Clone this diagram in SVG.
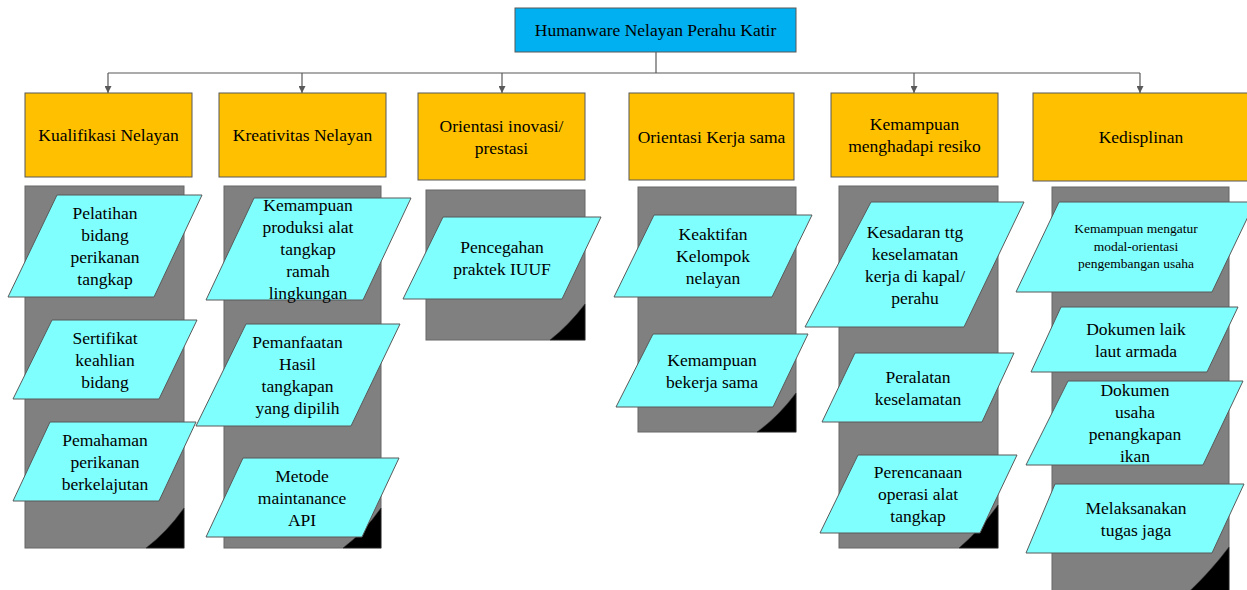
<svg xmlns="http://www.w3.org/2000/svg" width="1247" height="590" viewBox="0 0 1247 590">
<defs>
<style>
text{font-family:"Liberation Serif","Times New Roman",serif;font-size:17.5px;fill:#000;text-anchor:middle}
.sm{font-size:13.5px}
.root{fill:#00B0F0;stroke:#595959;stroke-width:1}
.cat{fill:#FFC000;stroke:#595959;stroke-width:1}
.panel{fill:#808080;stroke:#666;stroke-width:1}
.curl{fill:#000;stroke:#333;stroke-width:0.6}
.item{fill:#80FFFF;stroke:#595959;stroke-width:1}
.conn{fill:none;stroke:#595959;stroke-width:1.2}
</style>
<marker id="arr" viewBox="0 0 8 8" refX="8" refY="4" markerWidth="7" markerHeight="7" markerUnits="userSpaceOnUse" orient="auto">
<path d="M0,0 L8,4 L0,8 Z" fill="#595959"/>
</marker>
</defs>
<rect width="1247" height="590" fill="#fff"/>

<g id="connectors">
<path class="conn" d="M656,52 V73"/>
<path class="conn" d="M108,73 H1140"/>
<path class="conn" d="M108,73 V93" marker-end="url(#arr)"/>
<path class="conn" d="M302,73 V93" marker-end="url(#arr)"/>
<path class="conn" d="M502,73 V93" marker-end="url(#arr)"/>
<path class="conn" d="M914,73 V93" marker-end="url(#arr)"/>
<path class="conn" d="M1140,73 V93" marker-end="url(#arr)"/>
</g>

<g id="root">
<rect class="root" x="515" y="8" width="281" height="44"/>
<text x="655.5" y="36">Humanware Nelayan Perahu Katir</text>
</g>

<g id="cat-kualifikasi">
<rect class="cat" x="25" y="93" width="167" height="84"/>
<text x="108.5" y="141">Kualifikasi Nelayan</text>
</g>
<g id="cat-kreativitas">
<rect class="cat" x="219" y="93" width="167" height="84"/>
<text x="302.5" y="141">Kreativitas Nelayan</text>
</g>
<g id="cat-inovasi">
<rect class="cat" x="418" y="93" width="167" height="87"/>
<text x="501.5" y="131.5">Orientasi inovasi/</text>
<text x="501.5" y="153.5">prestasi</text>
</g>
<g id="cat-kerjasama">
<rect class="cat" x="629" y="93" width="165" height="87"/>
<text x="711.5" y="142.5">Orientasi Kerja sama</text>
</g>
<g id="cat-resiko">
<rect class="cat" x="831" y="93" width="167" height="84"/>
<text x="914.5" y="130">Kemampuan</text>
<text x="914.5" y="152">menghadapi resiko</text>
</g>
<g id="cat-kedisplinan">
<rect class="cat" x="1033" y="93" width="216" height="88"/>
<text x="1141" y="143">Kedisplinan</text>
</g>

<g id="panel-1">
<rect class="panel" x="25" y="186" width="159" height="362"/>
<path class="curl" d="M184,508 L184,548 L146,548 Q167,532 184,508 Z"/>
</g>
<g id="panel-2">
<rect class="panel" x="224" y="186" width="157" height="362"/>
<path class="curl" d="M381,508 L381,548 L343,548 Q364,532 381,508 Z"/>
</g>
<g id="panel-3">
<rect class="panel" x="426" y="190" width="159" height="150"/>
<path class="curl" d="M585,304 L585,340 L550,340 Q569,325 585,304 Z"/>
</g>
<g id="panel-4">
<rect class="panel" x="638" y="187" width="158" height="245"/>
<path class="curl" d="M796,393 L796,432 L757,432 Q778,417 796,393 Z"/>
</g>
<g id="panel-5">
<rect class="panel" x="839" y="186" width="159" height="362"/>
<path class="curl" d="M998,505 L998,548 L959,548 Q980,530 998,505 Z"/>
</g>
<g id="panel-6">
<rect class="panel" x="1052" y="187" width="177" height="420"/>
<path class="curl" d="M1229,547 L1229,600 L1180,600 Q1208,575 1229,547 Z"/>
</g>

<g id="item-pelatihan">
<polygon class="item" points="57,195 202,195 154,297 8,297"/>
<text x="105" y="219">Pelatihan</text>
<text x="105" y="241">bidang</text>
<text x="105" y="263">perikanan</text>
<text x="105" y="285">tangkap</text>
</g>
<g id="item-sertifikat">
<polygon class="item" points="52,320 197,320 159,399 13,399"/>
<text x="105" y="343.5">Sertifikat</text>
<text x="105" y="365.5">keahlian</text>
<text x="105" y="387.5">bidang</text>
</g>
<g id="item-pemahaman">
<polygon class="item" points="50,422 196,422 159,501 13,501"/>
<text x="105" y="445.5">Pemahaman</text>
<text x="105" y="467.5">perikanan</text>
<text x="105" y="489.5">berkelajutan</text>
</g>

<g id="item-produksi">
<polygon class="item" points="254,198 411,198 363,300 206,300"/>
<text x="308" y="211">Kemampuan</text>
<text x="308" y="233">produksi alat</text>
<text x="308" y="255">tangkap</text>
<text x="308" y="277">ramah</text>
<text x="308" y="299">lingkungan</text>
</g>
<g id="item-pemanfaatan">
<polygon class="item" points="246,324 400,324 351,426 196,426"/>
<text x="297.5" y="348">Pemanfaatan</text>
<text x="297.5" y="370">Hasil</text>
<text x="297.5" y="392">tangkapan</text>
<text x="297.5" y="414">yang dipilih</text>
</g>
<g id="item-metode">
<polygon class="item" points="243,458 399,458 362,537 206,537"/>
<text x="302" y="481.5">Metode</text>
<text x="302" y="503.5">maintanance</text>
<text x="302" y="525.5">API</text>
</g>

<g id="item-pencegahan">
<polygon class="item" points="443,217 601,217 562,299 403,299"/>
<text x="502" y="253">Pencegahan</text>
<text x="502" y="275">praktek IUUF</text>
</g>

<g id="item-keaktifan">
<polygon class="item" points="654,215 812,215 772,297 614,297"/>
<text x="713" y="240">Keaktifan</text>
<text x="713" y="262">Kelompok</text>
<text x="713" y="284">nelayan</text>
</g>
<g id="item-bekerjasama">
<polygon class="item" points="653,334 808,334 773,407 616,407"/>
<text x="712" y="365.5">Kemampuan</text>
<text x="712" y="387.5">bekerja sama</text>
</g>

<g id="item-kesadaran">
<polygon class="item" points="871,202 1024,202 964,327 805,327"/>
<text x="915" y="237.5">Kesadaran ttg</text>
<text x="915" y="259.5">keselamatan</text>
<text x="915" y="281.5">kerja di kapal/</text>
<text x="915" y="303.5">perahu</text>
</g>
<g id="item-peralatan">
<polygon class="item" points="855,353 1014,353 982,422 822,422"/>
<text x="918" y="382.5">Peralatan</text>
<text x="918" y="404.5">keselamatan</text>
</g>
<g id="item-perencanaan">
<polygon class="item" points="858,455 1017,455 980,533 820,533"/>
<text x="918" y="478">Perencanaan</text>
<text x="918" y="500">operasi alat</text>
<text x="918" y="522">tangkap</text>
</g>

<g id="item-modal">
<polygon class="item" points="1059,202 1255,202 1212,292 1016,292"/>
<text class="sm" x="1136" y="233">Kemampuan mengatur</text>
<text class="sm" x="1136" y="250.5">modal-orientasi</text>
<text class="sm" x="1136" y="268">pengembangan usaha</text>
</g>
<g id="item-laiklaut">
<polygon class="item" points="1061,307 1238,307 1207,372 1031,372"/>
<text x="1136" y="334.5">Dokumen laik</text>
<text x="1136" y="356.5">laut armada</text>
</g>
<g id="item-dokumenusaha">
<polygon class="item" points="1068,381 1243,381 1203,465 1026,465"/>
<text x="1135" y="396">Dokumen</text>
<text x="1135" y="418">usaha</text>
<text x="1135" y="440">penangkapan</text>
<text x="1135" y="462">ikan</text>
</g>
<g id="item-tugasjaga">
<polygon class="item" points="1055,484 1244,484 1212,553 1026,553"/>
<text x="1136" y="513.5">Melaksanakan</text>
<text x="1136" y="535.5">tugas jaga</text>
</g>
</svg>
